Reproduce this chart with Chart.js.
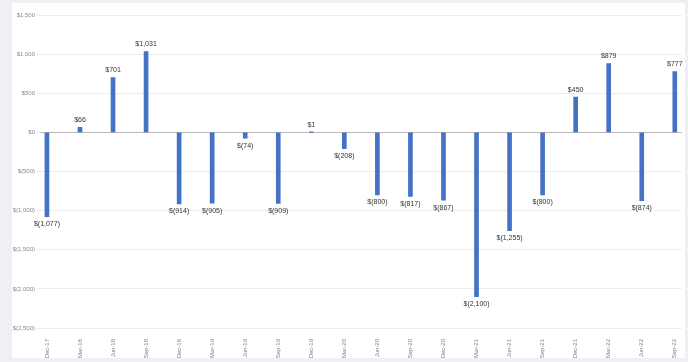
<!DOCTYPE html>
<html>
<head>
<meta charset="utf-8">
<script src="https://cdn.jsdelivr.net/npm/chart.js@4"></script>
<style>
  html, body { margin: 0; padding: 0; }
  body { width: 688px; height: 362px; background: #eef0f3; position: relative; overflow: hidden; }
  #card { position: absolute; left: 12px; top: 3px; width: 673px; height: 355px; background: #ffffff; }
  canvas { display: block; }
</style>
</head>
<body>
<div id="card"><canvas id="chart" width="673" height="355"></canvas></div>
<script>
// Quarter-end periods
const periods = [
  'Dec-17', 'Mar-18', 'Jun-18', 'Sep-18', 'Dec-18', 'Mar-19', 'Jun-19', 'Sep-19',
  'Dec-19', 'Mar-20', 'Jun-20', 'Sep-20', 'Dec-20', 'Mar-21', 'Jun-21', 'Sep-21',
  'Dec-21', 'Mar-22', 'Jun-22', 'Sep-22'
];

// Net change for each period, in dollars
const netChange = [
  -1077, 66, 701, 1031, -914, -905, -74, -909,
  1, -208, -800, -817, -867, -2100, -1255, -800,
  450, 879, -874, 777
];

// Value axis range and step
const yMin = -2500;
const yMax = 1500;
const yStep = 500;

function money(v) {
  const s = '$' + Math.abs(v).toLocaleString('en-US');
  return v < 0 ? '$(' + Math.abs(v).toLocaleString('en-US') + ')' : s;
}

const FONT = '"Liberation Sans", "DejaVu Sans", sans-serif';

// Writes each bar's value just beyond its end
const valueLabels = {
  id: 'valueLabels',
  afterDatasetsDraw(chart) {
    const ctx = chart.ctx;
    const meta = chart.getDatasetMeta(0);
    ctx.save();
    ctx.font = '7px ' + FONT;
    ctx.fillStyle = '#333333';
    ctx.textAlign = 'center';
    meta.data.forEach((bar, i) => {
      const v = netChange[i];
      if (v >= 0) {
        ctx.textBaseline = 'bottom';
        ctx.fillText(money(v), bar.x, bar.y - 4);
      } else {
        ctx.textBaseline = 'top';
        ctx.fillText(money(v), bar.x, bar.y + 4);
      }
    });
    ctx.restore();
  }
};

new Chart(document.getElementById('chart'), {
  type: 'bar',
  data: {
    datasets: [{
      data: netChange.map((v, i) => ({ x: i, y: v })),
      backgroundColor: '#4472C4',
      barThickness: 4,
      borderWidth: 0
    }]
  },
  options: {
    responsive: false,
    animation: false,
    layout: { padding: { top: 12, right: 1, left: 0, bottom: 0 } },
    plugins: { legend: { display: false }, tooltip: { enabled: false } },
    scales: {
      x: {
        type: 'linear',
        offset: false,
        min: -0.21,
        max: periods.length - 1 + 0.21,
        afterFit(scale) { scale.height = 30; },
        grid: { display: false },
        border: { display: false },
        ticks: {
          stepSize: 1,
          includeBounds: false,
          autoSkip: false,
          minRotation: 90,
          maxRotation: 90,
          padding: 3,
          color: '#808080',
          font: { family: FONT, size: 6 },
          callback: (v) => (Number.isInteger(v) ? periods[v] : '')
        }
      },
      y: {
        min: yMin,
        max: yMax,
        afterFit(scale) { scale.width = 28; },
        border: { display: false },
        grid: {
          color: (c) => (c.tick && c.tick.value === 0 ? '#b8b8b8' : '#ececec'),
          lineWidth: 1,
          tickLength: 3,
          tickColor: '#ececec'
        },
        ticks: {
          stepSize: yStep,
          padding: 2,
          color: '#8a8a8a',
          font: { family: FONT, size: 6 },
          callback: (v) => money(v)
        }
      }
    }
  },
  plugins: [valueLabels]
});
</script>
</body>
</html>
